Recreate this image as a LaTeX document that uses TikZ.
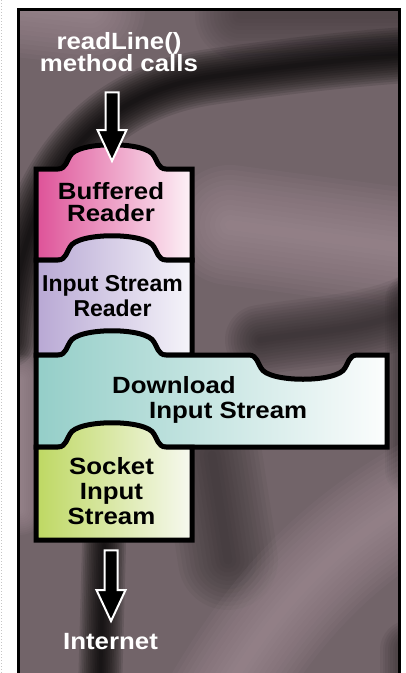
\documentclass[tikz,border=0pt]{standalone}
\usepackage{fontspec}
\setmainfont{Liberation Sans}
\newfontfamily\labfont[FakeStretch=1.1]{Liberation Sans}
\usetikzlibrary{calc}

\definecolor{bgbase}{RGB}{114,100,105}
\definecolor{bglight}{RGB}{170,150,158}
\definecolor{bgdark}{RGB}{40,34,36}
\definecolor{bufpink}{RGB}{222,82,152}
\definecolor{bufwhite}{RGB}{253,242,247}
\definecolor{isrlilac}{RGB}{184,168,212}
\definecolor{isrwhite}{RGB}{246,245,250}
\definecolor{disteal}{RGB}{148,206,200}
\definecolor{diswhite}{RGB}{252,253,253}
\definecolor{sisgreen}{RGB}{190,216,98}
\definecolor{siswhite}{RGB}{247,249,240}

% rounded tab on top of a piece: left x, shoulder y, 1 = up / -1 = notch
\newcommand{\knob}[3]{%
  -- (#1,#2) .. controls ({#1+8},#2) and ({#1+9},{#2-9*(#3)}) .. ({#1+12},{#2-13*(#3)})
  .. controls ({#1+19},{#2-28*(#3)}) and ({#1+89},{#2-28*(#3)}) .. ({#1+96},{#2-13*(#3)})
  .. controls ({#1+99},{#2-9*(#3)}) and ({#1+100},#2) .. ({#1+108},#2)}

% soft streak in the backdrop: [opacity] colour, width, path
\newcommand{\haze}[4][.08]{%
  \foreach \i in {0,...,11}
    {\draw[#2, line width={#3*(1-\i/12)}, draw opacity=#1, line cap=round] #4;}}

% fat arrow from one point down to another
\newcommand{\fatarrow}[2]{%
  \draw[fatarrow] ($(#1)+(-6.5,0)$) -- ($(#2)+(-6.5,-31)$) -- ($(#2)+(-14.5,-31)$)
    -- (#2) -- ($(#2)+(14.5,-31)$) -- ($(#2)+(6.5,-31)$) -- ($(#1)+(6.5,0)$) -- cycle;}

\tikzset{
  piece/.style={draw=black, line width=5pt},
  boxlabel/.style={inner sep=0pt, align=center,
    font=\labfont\bfseries\fontsize{23.5}{25}\selectfont},
  calllabel/.style={boxlabel, text=white},
  fatarrow/.style={fill=black, draw=white, line width=2pt, line join=miter}
}

\begin{document}
\begin{tikzpicture}[x=1pt,y=-1pt]
	\useasboundingbox (0,0) rectangle (405,673);
	\draw[gray!45, dotted, line width=1pt] (1.5,0) -- (1.5,673);

	% backdrop
	\begin{scope}
	\clip (18,9) rectangle (400,680);
	\fill[bgbase] (18,9) rectangle (400,680);
	\haze{bglight}{110}{(0,0) -- (90,10)}
	\haze{bgdark!60!bgbase}{90}{(240,15) -- (430,15)}
	\haze[.11]{black}{56}{(8,340) .. controls (24,180) and (90,95) .. (210,77) .. controls (300,64) and (360,58) .. (420,54)}
	\haze{bglight}{120}{(230,225) -- (420,250)}
	\haze{bgdark}{70}{(260,340) .. controls (320,330) and (380,330) .. (430,300)}
	\haze{bgdark}{50}{(410,300) -- (410,470)}
	\haze[.06]{bgdark}{100}{(212,455) -- (228,560)}
	\haze{bglight}{110}{(220,700) .. controls (280,600) and (340,540) .. (430,490)}
	\haze[.11]{black}{44}{(104,545) -- (100,690)}
	\haze{bglight}{50}{(20,380) -- (20,510)}
	\haze{bgdark}{60}{(410,650) -- (410,700)}
	\end{scope}
	\draw[black, line width=3pt] (18.5,9.5) rectangle (399.5,690);

	% the stack of streams
	\shadedraw[piece, left color=bufpink, right color=bufwhite]
	  (36,260) -- (36,169) \knob{58}{169}{1} -- (192,169) -- (192,260) -- cycle;
	\shadedraw[piece, left color=isrlilac, right color=isrwhite]
	  (36,355) -- (36,260) \knob{58}{260}{1} -- (192,260) -- (192,355) -- cycle;
	\shadedraw[piece, left color=disteal, right color=diswhite]
	  (36,447) -- (36,355) \knob{58}{355}{1} \knob{249}{355}{-1} -- (387,355) -- (387,447) -- cycle;
	\shadedraw[piece, left color=sisgreen, right color=siswhite]
	  (36,540) -- (36,447) \knob{58}{447}{1} -- (192,447) -- (192,540) -- cycle;

	\draw (119,52.5) node(calls) [calllabel, font=\labfont\bfseries\fontsize{23.5}{22}\selectfont] {readLine()\\method calls};
	\draw (111,202.5) node(buf) [boxlabel, font=\labfont\bfseries\fontsize{23.5}{22}\selectfont] {Buffered\\Reader};
	\draw (112.5,296.5) node(isr) [boxlabel, font=\bfseries\fontsize{23}{25}\selectfont] {Input Stream\\Reader};
	\draw (112,400.4) node(dis) [boxlabel, align=left, anchor=west] {Download\\\hspace*{37pt}Input Stream};
	\draw (111.5,491.5) node(sis) [boxlabel] {Socket\\Input\\Stream};
	\draw (110.5,641.5) node(net) [calllabel] {Internet};

	\coordinate (inTop) at ([yshift=-20pt]calls.south-|112,0);
	\coordinate (inTip) at (112,161);
	\coordinate (outTop) at ([yshift=-25pt]sis.south-|111,0);
	\coordinate (outTip) at ([yshift=12pt]net.north-|111,0);
	\fatarrow{inTop}{inTip}
	\fatarrow{outTop}{outTip}
\end{tikzpicture}
\end{document}
